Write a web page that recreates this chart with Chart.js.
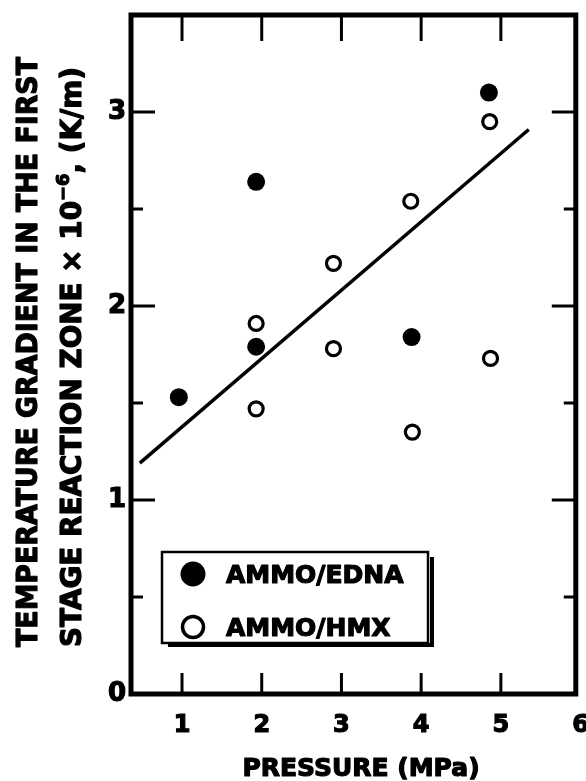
<!DOCTYPE html>
<html>
<head>
<meta charset="utf-8">
<script src="https://cdn.jsdelivr.net/npm/chart.js@4.4.0/dist/chart.umd.min.js"></script>
<style>
  html, body { margin: 0; padding: 0; background: #fff; }
  canvas { display: block; }
</style>
</head>
<body>
<canvas id="gradChart" width="586" height="781"></canvas>
<script>
const FONT = '"DejaVu Sans", sans-serif';

// AMMO/EDNA (filled circles)
const ednaPressure = [0.96, 1.93, 1.93, 3.88, 4.85];
const ednaGradient = [1.53, 2.64, 1.79, 1.84, 3.10];

// AMMO/HMX (open circles)
const hmxPressure = [1.93, 1.93, 2.90, 2.90, 3.87, 3.89, 4.86, 4.87];
const hmxGradient = [1.91, 1.47, 2.22, 1.78, 2.54, 1.35, 2.95, 1.73];

// straight fit line, end points
const fitPressure = [0.47, 5.35];
const fitGradient = [1.19, 2.91];

// tick labels and inward tick marks
const xTickLabels = [1, 2, 3, 4, 5, 6];
const yTickLabels = [0, 1, 2, 3];
const xMarks = [1, 2, 3, 4, 5];
const yMarks = [0.5, 1, 1.5, 2, 2.5, 3];

const toPoints = (xs, ys) => xs.map((x, i) => ({ x: x, y: ys[i] }));

// Box frame with ticks pointing inwards
const framePlugin = {
    id: 'frame',
    beforeDatasetsDraw(chart) {
        const { ctx, chartArea: a, scales: { x, y } } = chart;
        ctx.save();
        ctx.strokeStyle = '#000';
        ctx.lineWidth = 5;
        ctx.strokeRect(a.left, a.top, a.right - a.left, a.bottom - a.top);
        ctx.lineWidth = 3;
        ctx.beginPath();
        xMarks.forEach(v => {
            const px = x.getPixelForValue(v);
            ctx.moveTo(px, a.top); ctx.lineTo(px, a.top + 26);
            ctx.moveTo(px, a.bottom); ctx.lineTo(px, a.bottom - 21);
        });
        yMarks.forEach(v => {
            const py = y.getPixelForValue(v);
            const len = Number.isInteger(v) ? 24 : 12;
            ctx.moveTo(a.left, py); ctx.lineTo(a.left + len, py);
            ctx.moveTo(a.right, py); ctx.lineTo(a.right - len, py);
        });
        ctx.stroke();
        ctx.restore();
    }
};

// heavy text: fill plus a thin stroke, like the black print of the original
function heavyText(ctx, text, x, y) {
    ctx.fillText(text, x, y);
    ctx.strokeText(text, x, y);
}

// draw a run of text pieces, stretched to a given length
function drawRich(ctx, parts, length) {
    let total = 0;
    parts.forEach(p => {
        ctx.font = `bold ${p.size}px ${FONT}`;
        total += ctx.measureText(p.text).width;
    });
    ctx.scale(length / total, 1);
    let pos = 0;
    parts.forEach(p => {
        ctx.font = `bold ${p.size}px ${FONT}`;
        heavyText(ctx, p.text, pos, -(p.rise || 0));
        pos += ctx.measureText(p.text).width;
    });
}

// Axis titles
const titlePlugin = {
    id: 'titles',
    afterDraw(chart) {
        const ctx = chart.ctx;
        ctx.save();
        ctx.fillStyle = '#000';
        ctx.strokeStyle = '#000';
        ctx.lineWidth = 1.2;
        ctx.lineJoin = 'round';
        ctx.textBaseline = 'alphabetic';
        ctx.textAlign = 'center';
        ctx.font = `bold 25px ${FONT}`;
        heavyText(ctx, 'PRESSURE (MPa)', 361, 776);

        ctx.textAlign = 'left';
        ctx.save();
        ctx.translate(37, 647);
        ctx.rotate(-Math.PI / 2);
        drawRich(ctx, [{ text: 'TEMPERATURE GRADIENT IN THE FIRST', size: 29 }], 590);
        ctx.restore();

        ctx.save();
        ctx.translate(81, 647);
        ctx.rotate(-Math.PI / 2);
        drawRich(ctx, [
            { text: 'STAGE REACTION ZONE \u00D7 10', size: 28 },
            { text: '\u22126', size: 18, rise: 12 },
            { text: ', (K/m)', size: 28 }
        ], 580);
        ctx.restore();
        ctx.restore();
    }
};

// Boxed legend with a drop shadow
const legendPlugin = {
    id: 'boxLegend',
    afterDraw(chart) {
        const ctx = chart.ctx;
        const ds = chart.data.datasets;
        ctx.save();
        ctx.fillStyle = '#fff';
        ctx.fillRect(162, 552, 266, 91);
        ctx.strokeStyle = '#000';
        ctx.lineWidth = 2.5;
        ctx.strokeRect(162, 552, 266, 91);
        ctx.lineWidth = 4;
        ctx.beginPath();
        ctx.moveTo(168, 645); ctx.lineTo(432, 645); ctx.lineTo(432, 557);
        ctx.stroke();

        const rows = [{ d: ds[0], y: 574 }, { d: ds[1], y: 627 }];
        rows.forEach(r => {
            ctx.beginPath();
            if (r.d.borderWidth > 0) {
                ctx.arc(193, r.y, 10.5, 0, Math.PI * 2);
                ctx.fillStyle = r.d.backgroundColor;
                ctx.fill();
                ctx.lineWidth = 3.5;
                ctx.strokeStyle = r.d.borderColor;
                ctx.stroke();
            } else {
                ctx.arc(193, r.y, 12.5, 0, Math.PI * 2);
                ctx.fillStyle = r.d.backgroundColor;
                ctx.fill();
            }
            ctx.fillStyle = '#000';
            ctx.strokeStyle = '#000';
            ctx.lineWidth = 1.2;
            ctx.lineJoin = 'round';
            ctx.font = `bold 25px ${FONT}`;
            ctx.textAlign = 'left';
            ctx.textBaseline = 'alphabetic';
            heavyText(ctx, r.d.label, 226, r.y + 9);
        });
        ctx.restore();
    }
};

const ctx = document.getElementById('gradChart').getContext('2d');
new Chart(ctx, {
    type: 'scatter',
    data: {
        datasets: [
            {
                label: 'AMMO/EDNA',
                data: toPoints(ednaPressure, ednaGradient),
                backgroundColor: '#000',
                borderColor: '#000',
                borderWidth: 0,
                pointRadius: 9
            },
            {
                label: 'AMMO/HMX',
                data: toPoints(hmxPressure, hmxGradient),
                backgroundColor: '#fff',
                borderColor: '#000',
                borderWidth: 3.2,
                pointRadius: 7
            },
            {
                label: 'fit',
                type: 'line',
                data: toPoints(fitPressure, fitGradient),
                borderColor: '#000',
                borderWidth: 3.5,
                pointRadius: 0,
                fill: false,
                order: 5
            }
        ]
    },
    options: {
        responsive: false,
        animation: false,
        layout: { padding: { left: 0, top: 15, right: 9, bottom: 0 } },
        plugins: {
            legend: { display: false },
            tooltip: { enabled: false }
        },
        scales: {
            x: {
                type: 'linear',
                min: 0.36,
                max: 5.94,
                grid: { display: false, drawTicks: false },
                border: { display: false },
                afterBuildTicks: s => { s.ticks = xTickLabels.map(v => ({ value: v })); },
                afterFit: s => { s.height = 87; s.paddingLeft = 0; s.paddingRight = 0; },
                ticks: {
                    autoSkip: false,
                    maxRotation: 0,
                    padding: 17,
                    color: '#000',
                    textStrokeColor: '#000',
                    textStrokeWidth: 1.2,
                    font: { family: FONT, size: 24, weight: 'bold' }
                }
            },
            y: {
                type: 'linear',
                min: 0,
                max: 3.5,
                grid: { display: false, drawTicks: false },
                border: { display: false },
                afterBuildTicks: s => { s.ticks = yTickLabels.map(v => ({ value: v })); },
                afterFit: s => { s.width = 131; s.paddingTop = 0; s.paddingBottom = 0; },
                ticks: {
                    padding: 5,
                    color: '#000',
                    textStrokeColor: '#000',
                    textStrokeWidth: 1.2,
                    font: { family: FONT, size: 26, weight: 'bold' }
                }
            }
        }
    },
    plugins: [framePlugin, titlePlugin, legendPlugin]
});
</script>
</body>
</html>
